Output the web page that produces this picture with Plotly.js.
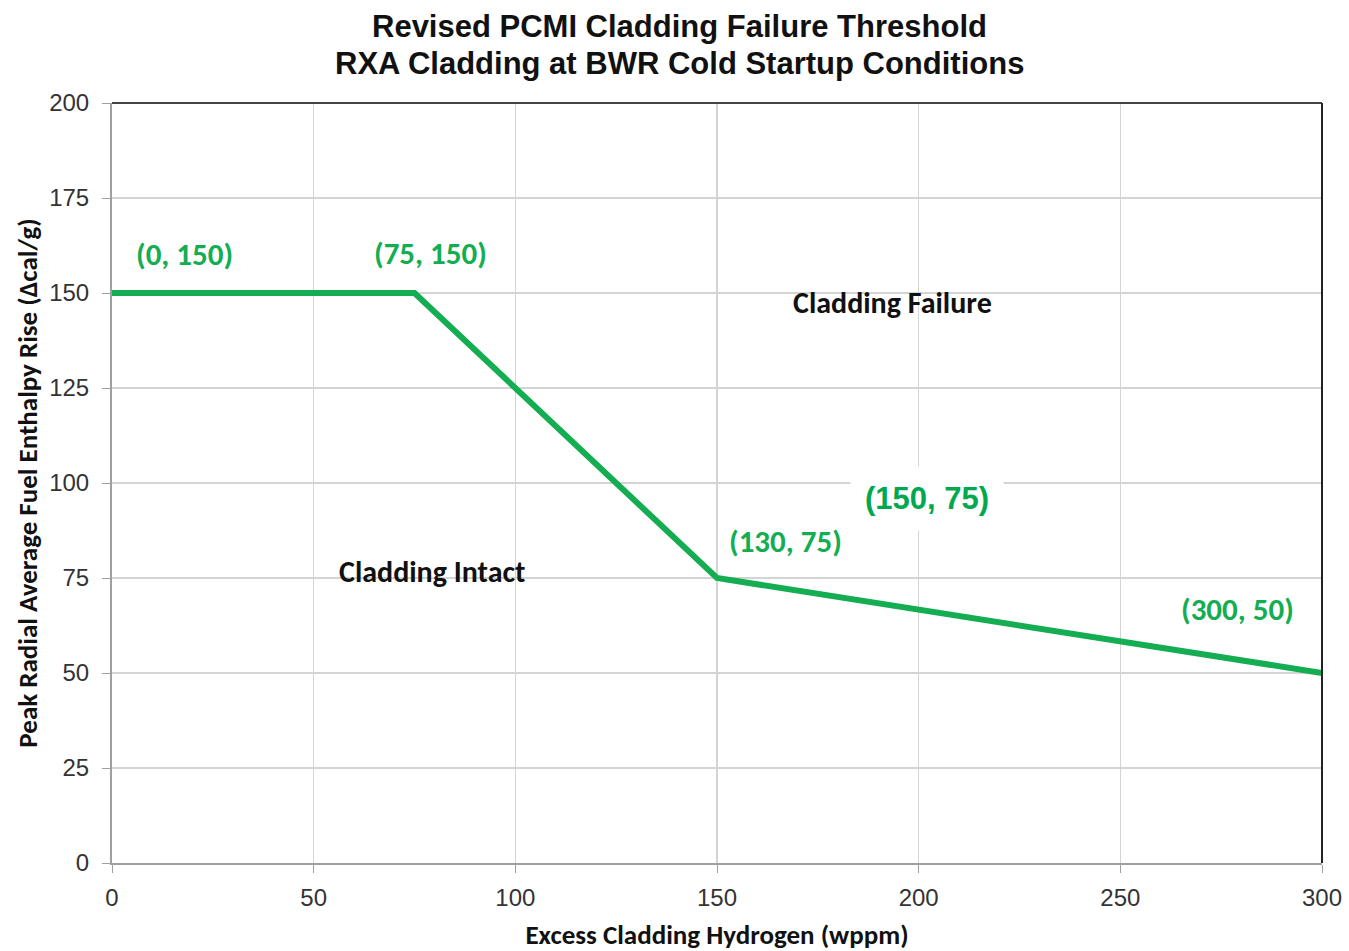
<!DOCTYPE html>
<html><head><meta charset="utf-8">
<script src="https://cdn.plot.ly/plotly-3.0.1.min.js"></script>
<style>body{margin:0;background:#fff}#chart{width:1349px;height:951px}</style>
</head><body><div id="chart"></div>
<script>
const thresholdX = [0, 75, 150, 300];
const thresholdY = [150, 150, 75, 50];
const labelTexts = ["(0, 150)", "(75, 150)", "(130, 75)", "(300, 50)"];
const labelX = [18, 79, 167, 279];
const labelY = [160.3, 160.5, 84.7, 66.8];
const regionTexts = ["Cladding Failure", "Cladding Intact"];
const regionX = [193.6, 79.3];
const regionY = [147.4, 76.6];
const boxedText = "(150, 75)";
const boxedX = 202.1, boxedY = 95.8;
const titleLines = ["Revised PCMI Cladding Failure Threshold", "RXA Cladding at BWR Cold Startup Conditions"];
const titleY = [1.1, 1.0526];

const green = "#14ad52";
const annFont = {family: "Carlito, Lato, 'Liberation Sans', sans-serif", size: 31, color: green};
const annotations = [];
labelTexts.forEach((t, i) => annotations.push({x: labelX[i], y: labelY[i], text: "<b>" + t + "</b>", showarrow: false, font: annFont}));
regionTexts.forEach((t, i) => annotations.push({x: regionX[i], y: regionY[i], text: "<b>" + t + "</b>", showarrow: false,
  font: {family: "Carlito, Lato, 'Liberation Sans', sans-serif", size: 30, color: "#111"}}));
annotations.push({x: boxedX, y: boxedY, text: "<b>" + boxedText + "</b>", showarrow: false, bgcolor: "#fff",
  borderpad: 14, font: {family: "'Liberation Sans', Arial, sans-serif", size: 31, color: "#00a84f"}});
titleLines.forEach((t, i) => annotations.push({xref: "paper", yref: "paper", x: 0.469, y: titleY[i], xanchor: "center", yanchor: "middle",
  text: "<b>" + t + "</b>", showarrow: false, font: {family: "'Liberation Sans', Arial, sans-serif", size: 31, color: "#111"}}));

const data = [{x: thresholdX, y: thresholdY, type: "scatter", mode: "lines",
  line: {color: green, width: 6}, hoverinfo: "skip", cliponaxis: false}];

const tickFont = {family: "'Liberation Sans Narrow', 'Liberation Sans', Arial, sans-serif", size: 24, color: "#333"};
const titleFont = {family: "Carlito, Lato, 'Liberation Sans', sans-serif", size: 27, color: "#111", weight: 700};

const layout = {
  width: 1349, height: 951,
  margin: {l: 112, r: 27, t: 103, b: 88},
  paper_bgcolor: "#fff", plot_bgcolor: "#fff",
  showlegend: false,
  xaxis: {range: [0, 300], tickvals: [0, 50, 100, 150, 200, 250, 300], showgrid: true, gridcolor: "#d4d4d4", gridwidth: 1.5,
    zeroline: false, showline: true, linecolor: "#a0a0a0", linewidth: 2, ticks: "outside", ticklen: 8, tickcolor: "#a0a0a0",
    ticklabelstandoff: 4,
    tickfont: tickFont, title: {text: "Excess Cladding Hydrogen (wppm)", font: titleFont, standoff: 16}},
  yaxis: {range: [0, 200], tickvals: [0, 25, 50, 75, 100, 125, 150, 175, 200], showgrid: true, gridcolor: "#d4d4d4", gridwidth: 1.5,
    zeroline: false, showline: true, linecolor: "#a0a0a0", linewidth: 2, ticks: "outside", ticklen: 8, tickcolor: "#a0a0a0",
    ticklabelstandoff: 8,
    tickfont: tickFont, title: {text: "Peak Radial Average Fuel Enthalpy Rise (Δcal/g)", font: titleFont, standoff: 4}},
  annotations: annotations,
  shapes: [
    {type: "line", xref: "paper", yref: "paper", x0: 0, x1: 1, y0: 1, y1: 1, line: {color: "#444", width: 2}},
    {type: "line", xref: "paper", yref: "paper", x0: 1, x1: 1, y0: 0, y1: 1, line: {color: "#222", width: 2}}
  ]
};
Plotly.newPlot("chart", data, layout, {displayModeBar: false, staticPlot: true});
</script></body></html>
